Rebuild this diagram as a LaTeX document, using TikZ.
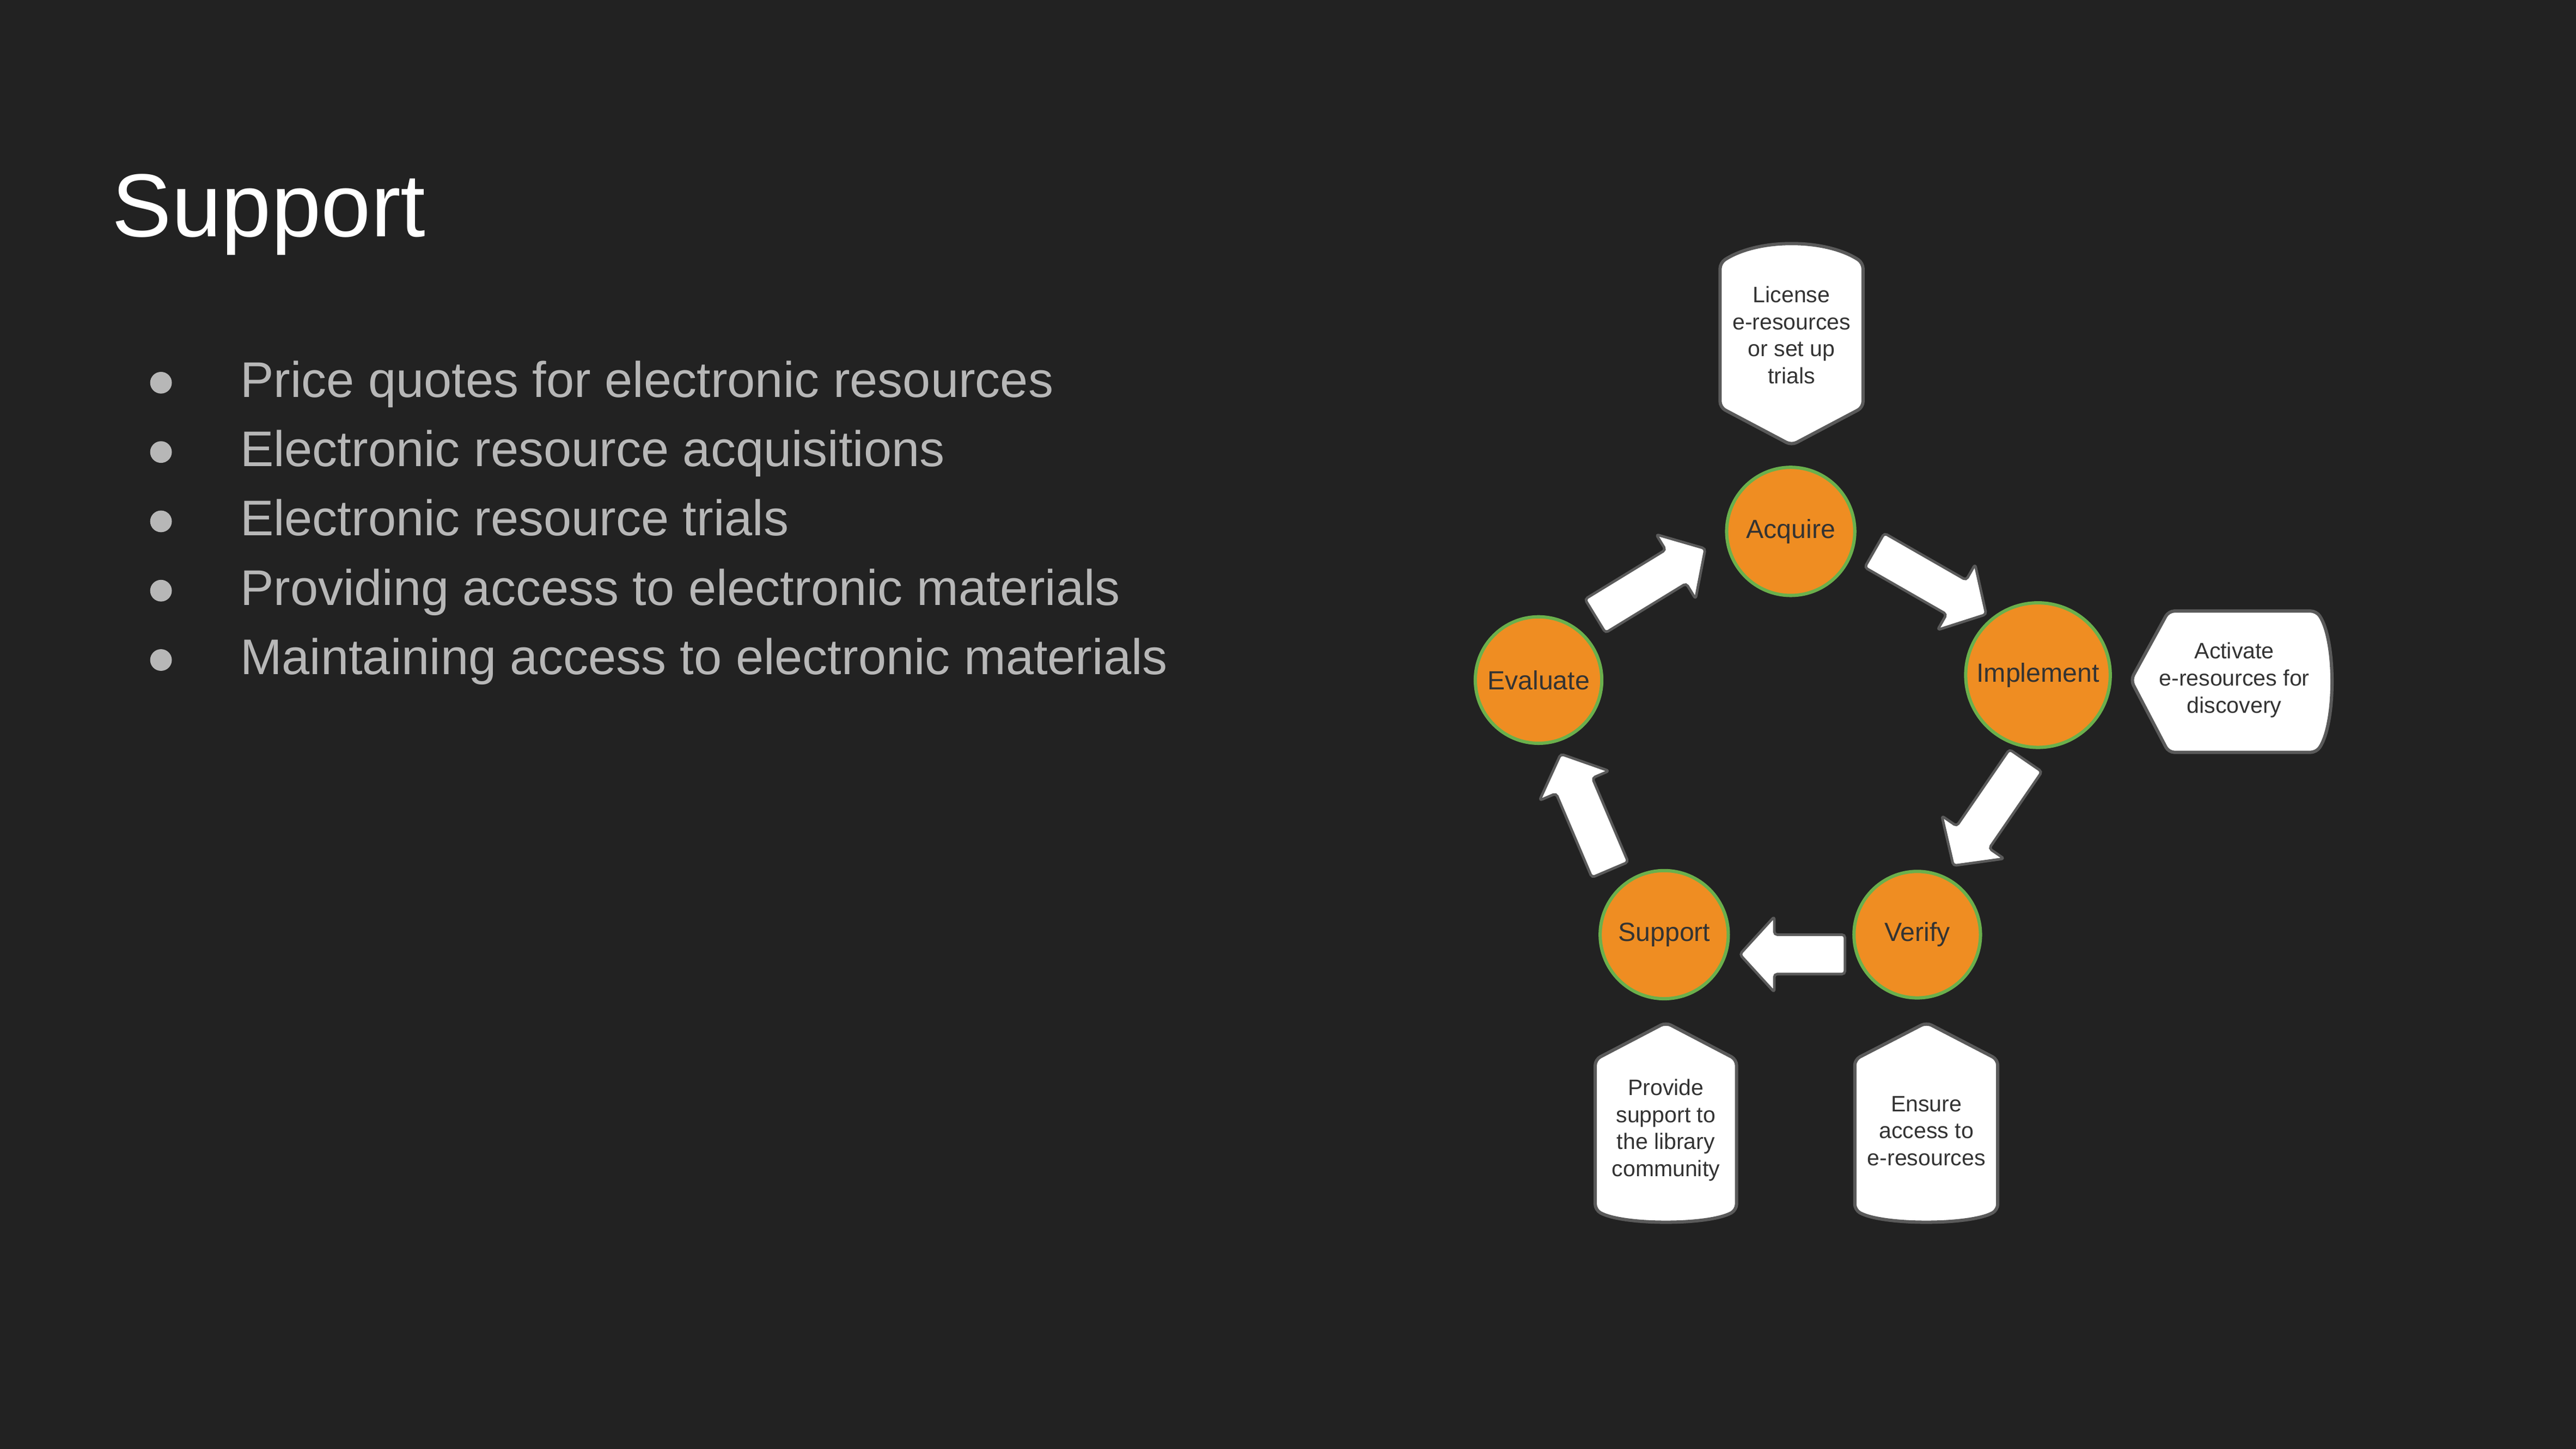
\documentclass[tikz,border=0pt]{standalone}
\usepackage{fontspec}
\setmainfont{Liberation Sans}
\usetikzlibrary{calc}
\definecolor{bg}{HTML}{222222}
\definecolor{bullettext}{HTML}{B7B7B7}
\definecolor{orangefill}{HTML}{EF8D22}
\definecolor{greenline}{HTML}{6AB04C}
\definecolor{grayline}{HTML}{5A5A5A}
\definecolor{darktext}{HTML}{333333}
\newcommand{\fsz}[1]{\fontsize{#1}{1.2\dimexpr#1pt\relax}\selectfont}
\tikzset{
  stage/.style={circle, draw=greenline, line width=2pt, fill=orangefill, inner sep=0pt,
    text=darktext, font=\fontsize{16}{19}\selectfont},
  calloutshape/.style={draw=grayline, line width=2pt, fill=white, rounded corners=3.5pt},
  callouttext/.style={align=center, text=darktext, inner sep=0pt,
    font=\fontsize{13.6}{16.5}\selectfont},
  blockarr/.style={draw=grayline, line width=1.6pt, fill=white, rounded corners=1.8pt},
  bullettxt/.style={anchor=base west, text=bullettext, inner sep=0pt,
    font=\fontsize{30.5}{36}\selectfont},
  bulletdot/.style={circle, fill=bullettext, inner sep=0pt, minimum size=13.2pt}
}
\newcommand{\blkarrow}[2]{%
  \path ($(#2)!21pt!(#1)$) coordinate (bb);
  \draw[blockarr] ($(#1)!12pt!90:(#2)$) -- ($(bb)!12pt!90:(#2)$) -- ($(bb)!23pt!90:(#2)$)
    -- (#2) -- ($(bb)!23pt!-90:(#2)$) -- ($(bb)!12pt!-90:(#2)$) -- ($(#1)!12pt!-90:(#2)$) -- cycle;}
\begin{document}
\begin{tikzpicture}[x=1pt,y=-1pt]
\fill[bg] (0,0) rectangle (1568,882.1);
\useasboundingbox (0,0) rectangle (1568,882.1);

% title
\node[anchor=base west, text=white, inner sep=0pt, font=\fontsize{54.5}{60}\selectfont] (title) at (68,144) {Support};

% bullets
\foreach \i/\t in {0/Price quotes for electronic resources,
                   1/Electronic resource acquisitions,
                   2/Electronic resource trials,
                   3/Providing access to electronic materials,
                   4/Maintaining access to electronic materials}{
  \node[bulletdot] (dot\i) at (98,233+42.2*\i) {};
  \node[bullettxt] (item\i) at (146,241.7+42.2*\i) {\t};
}

% callouts
\draw[calloutshape] (1047,160) .. controls (1070,145) and (1111,145) .. (1134,160)
  -- (1134,248) -- (1090.5,271) -- (1047,248) -- cycle;
\node[callouttext] (lic) at (1090.5,204) {License\\e-resources\\or set up\\trials};

\draw[calloutshape] (1320,372) -- (1410,372) .. controls (1422,390) and (1422,440) .. (1410,458)
  -- (1320,458) -- (1297,414) -- cycle;
\node[callouttext] (act) at (1360,414) {Activate\\e-resources for\\discovery};

\draw[calloutshape] (1014,622.5) -- (1057,645) -- (1057,736.6) .. controls (1040,746) and (988,746) .. (971,736.6)
  -- (971,645) -- cycle;
\node[callouttext] (prov) at (1014,688) {Provide\\support to\\the library\\community};

\draw[calloutshape] (1172.6,622.5) -- (1216,645) -- (1216,736.6) .. controls (1199,746) and (1146,746) .. (1129,736.6)
  -- (1129,645) -- cycle;
\node[callouttext] (ens) at (1172.6,688.5) {Ensure\\access to\\e-resources};

% block arrows
\coordinate (a1t) at (971,375);   \coordinate (a1h) at (1038,334);
\coordinate (a2t) at (1141,335);  \coordinate (a2h) at (1209,374);
\coordinate (a3t) at (1233,463);  \coordinate (a3h) at (1189,527);
\coordinate (a4t) at (1123,581);  \coordinate (a4h) at (1059,581);
\coordinate (a5t) at (980,529.5); \coordinate (a5h) at (950,459);
\blkarrow{a1t}{a1h}
\blkarrow{a2t}{a2h}
\blkarrow{a3t}{a3h}
\blkarrow{a4t}{a4h}
\blkarrow{a5t}{a5h}

% stages
\node[stage, minimum size=78pt] (acq) at (1090,323.5) {Acquire};
\node[stage, minimum size=88pt] (impl) at (1240.5,411) {Implement};
\node[stage, minimum size=77pt] (eval) at (936.5,414) {Evaluate};
\node[stage, minimum size=78pt] (sup) at (1013,569) {Support};
\node[stage, minimum size=77pt] (ver) at (1167,569) {Verify};
\end{tikzpicture}
\end{document}
